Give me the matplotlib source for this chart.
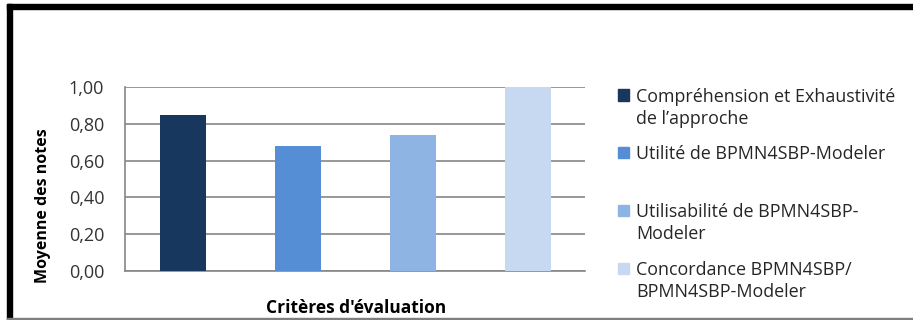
import matplotlib
matplotlib.use("Agg")
import matplotlib.pyplot as plt
from matplotlib.patches import Rectangle
from matplotlib.ticker import FuncFormatter

plt.rcParams['font.family'] = ['Open Sans', 'DejaVu Sans']

categories = ["Compréhension et Exhaustivité\nde l’approche",
              "Utilité de BPMN4SBP-Modeler",
              "Utilisabilité de BPMN4SBP-\nModeler",
              "Concordance BPMN4SBP/\nBPMN4SBP-Modeler"]
values = [0.85, 0.68, 0.74, 1.00]
colors = ["#17375E", "#558ED5", "#8EB4E3", "#C6D9F1"]
yticks = [0.0, 0.2, 0.4, 0.6, 0.8, 1.0]
ylabel = "Moyenne des notes"
xlabel = "Critères d'évaluation"

W, H = 913, 320
fig = plt.figure(figsize=(W/100, H/100), dpi=100)

ax = fig.add_axes([125/W, 1-271/H, (585-125)/W, (271-87)/H])
x = list(range(len(values)))
ax.bar(x, values, width=0.4, color=colors, zorder=3)
ax.set_xlim(-0.5, 3.5)
ax.set_ylim(0, 1.0)
ax.set_yticks(yticks)
ax.yaxis.set_major_formatter(FuncFormatter(lambda v, p: f"{v:.2f}".replace(".", ",")))
ax.set_xticks([])
ax.grid(axis='y', color='#868686', lw=1.2, zorder=0)
for s in ['top', 'right']:
    ax.spines[s].set_visible(False)
for s in ['left', 'bottom']:
    ax.spines[s].set_color('#868686')
    ax.spines[s].set_linewidth(1.2)
ax.tick_params(axis='y', length=0, pad=15, labelsize=13, labelcolor='#333333')
fig.text(43/W, 1-206/H, ylabel, fontsize=11.5, fontweight='bold', rotation=90,
         ha='center', va='center')
fig.text(356/W, 1-308/H, xlabel, fontsize=12.5, fontweight='bold', ha='center', va='center')

# legend (manual)
leg_y = [95, 152.7, 210, 268]
for lab, c, yy in zip(categories, colors, leg_y):
    fig.patches.append(Rectangle((618/W, 1-(yy+5.5)/H), 11/W, 11/H,
                                 transform=fig.transFigure, color=c, figure=fig))
    for i, line in enumerate(lab.split("\n")):
        fig.text(636/W, 1-(yy+6.7+22.5*i)/H, line, fontsize=12.9, ha='left',
                 va='baseline', color='#262626')

# frame
fig.patches.append(Rectangle((7/W, 0), 5/W, 1-4/H, transform=fig.transFigure,
                             color='black', figure=fig))
fig.patches.append(Rectangle((7/W, 1-9/H), 1-7/W, 5/H, transform=fig.transFigure,
                             color='black', figure=fig))
fig.patches.append(Rectangle((7/W, 0), 1-7/W, 2/H, transform=fig.transFigure,
                             color='#7f7f7f', figure=fig))

fig.savefig("out.png", dpi=100)
